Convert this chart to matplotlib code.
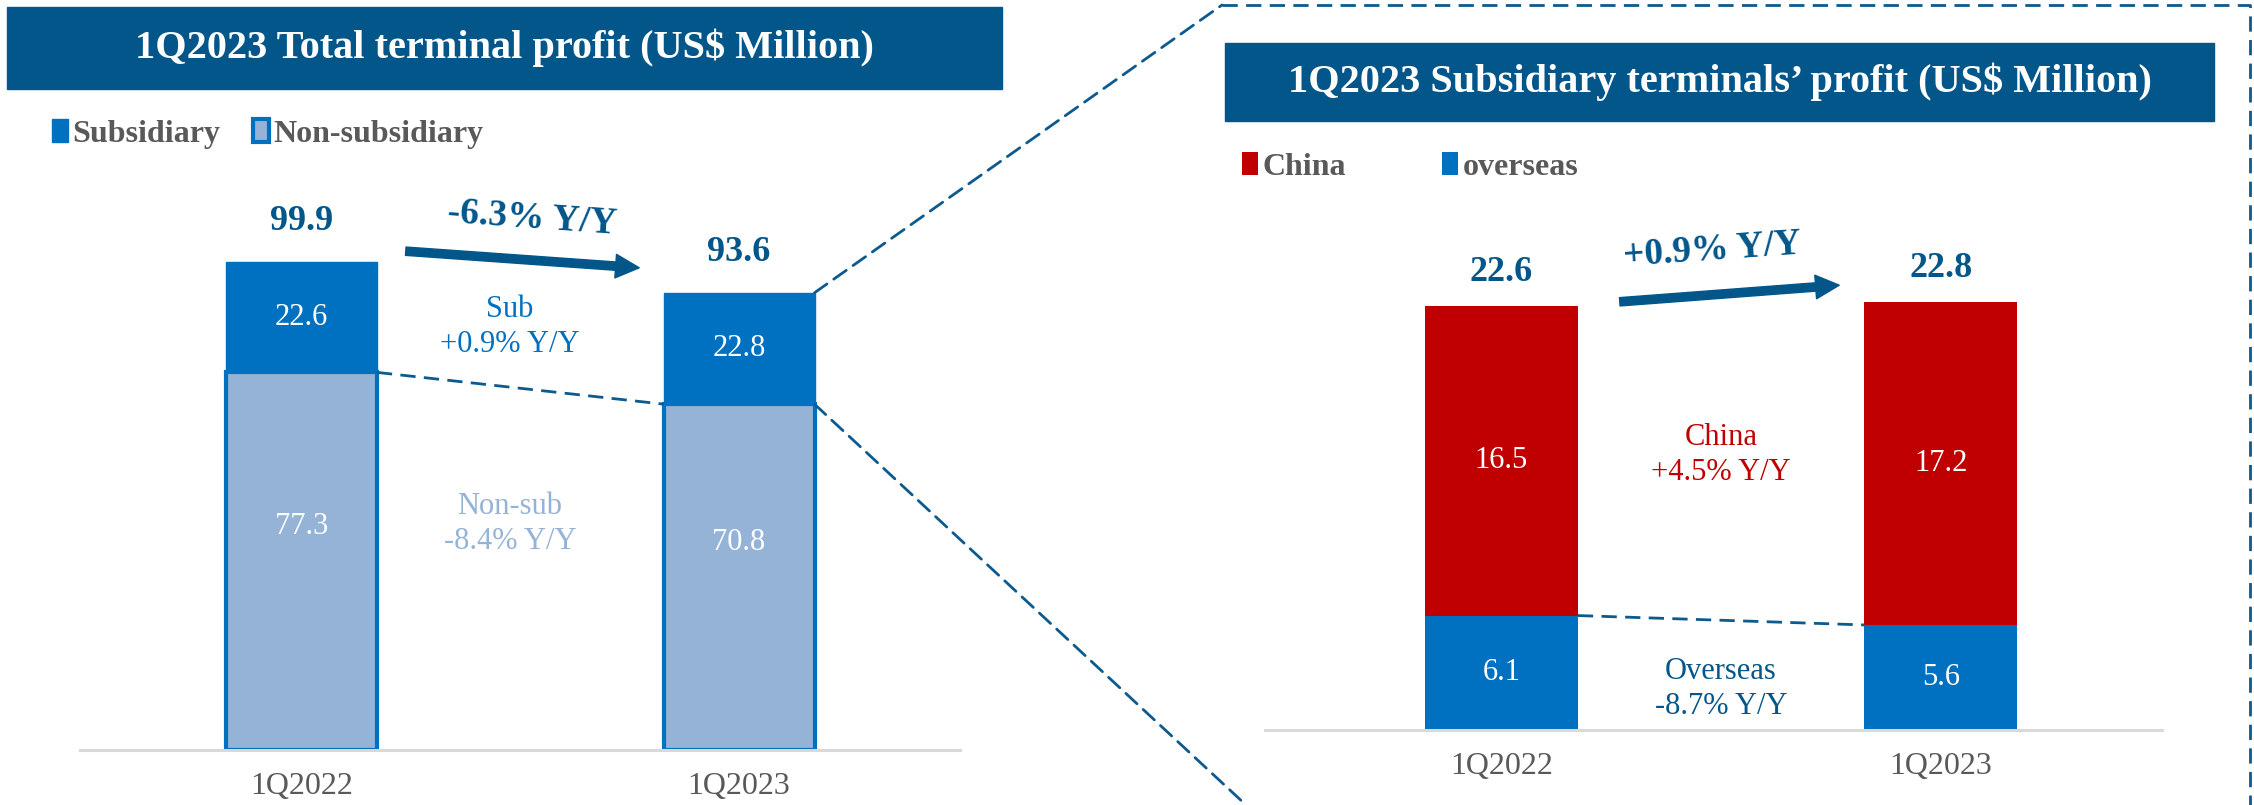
import matplotlib
matplotlib.use("Agg")
import matplotlib.pyplot as plt
from matplotlib.patches import Rectangle, FancyArrowPatch, ConnectionPatch
from matplotlib.lines import Line2D

plt.rcParams['font.family'] = ['Liberation Serif', 'DejaVu Serif']

# data
quarters = ["1Q2022", "1Q2023"]
subsidiary = [22.6, 22.8]
non_subsidiary = [77.3, 70.8]
totals = [99.9, 93.6]
china = [16.5, 17.2]
overseas = [6.1, 5.6]
sub_totals = [22.6, 22.8]

total_change = "-6.3% Y/Y"
sub_change = "Sub\n+0.9% Y/Y"
nonsub_change = "Non-sub\n-8.4% Y/Y"
subsid_change = "+0.9% Y/Y"
china_change = "China\n+4.5% Y/Y"
overseas_change = "Overseas\n-8.7% Y/Y"

# colours
navy = "#03568A"
blue = "#0070C0"
light = "#95B3D7"
red = "#C00000"
grey = "#595959"
dash_col = "#0D5A8E"

W, H = 2254, 805
fig = plt.figure(figsize=(W / 100, H / 100), dpi=100)

def fx(x):
    return x / W

def fy(y):
    return 1 - y / H

def header(x0, y0, x1, y1, txt):
    fig.add_artist(Rectangle((fx(x0), fy(y1)), (x1 - x0) / W, (y1 - y0) / H,
                             transform=fig.transFigure, color=navy, zorder=0))
    fig.text(fx((x0 + x1) / 2), fy((y0 + y1) / 2), txt, color="white", fontsize=29,
             fontweight="bold", ha="center", va="center")

def style_axis(ax):
    for s in ["top", "left", "right"]:
        ax.spines[s].set_visible(False)
    ax.spines["bottom"].set_color("#D9D9D9")
    ax.spines["bottom"].set_linewidth(2.2)
    ax.set_yticks([])
    ax.tick_params(axis="x", length=0, pad=16, labelsize=23, labelcolor=grey)

x = [0, 1]

# ---------- left panel ----------
header(7, 7, 1002, 89, "1Q2023 Total terminal profit (US$ Million)")

wL = 0.345
axL = fig.add_axes([fx(80), fy(750), 880 / W, 550 / H])
axL.set_xlim(-0.506, 1.505)
axL.set_ylim(0, 550 / 4.885)
b_non = axL.bar(x, non_subsidiary, width=wL, color=light, edgecolor=blue, linewidth=3, zorder=2)
b_sub = axL.bar(x, subsidiary, width=wL, bottom=non_subsidiary, color=blue, edgecolor=blue,
                linewidth=1, zorder=2)
axL.set_xticks(x, quarters)
style_axis(axL)

for i in x:
    axL.annotate(f"{totals[i]}", (i, totals[i]), xytext=(0, 29), textcoords="offset points",
                 ha="center", va="center", fontsize=26, fontweight="bold", color=navy)
    axL.annotate(f"{subsidiary[i]}", (i, non_subsidiary[i] + subsidiary[i] / 2),
                 ha="center", va="center", fontsize=22, color="white")
    axL.annotate(f"{non_subsidiary[i]}", (i, non_subsidiary[i] / 2), xytext=(0, 25),
                 textcoords="offset points", ha="center", va="center", fontsize=22, color="white")

axL.plot([wL / 2, 1 - wL / 2], [non_subsidiary[0], non_subsidiary[1]], color=dash_col,
         lw=2, ls=(0, (5.5, 3)), zorder=3)

fig.text(fx(510), fy(327), sub_change, color=blue, fontsize=22, ha="center", va="center",
         linespacing=1.25)
fig.text(fx(510), fy(524), nonsub_change, color=light, fontsize=22, ha="center", va="center",
         linespacing=1.25)

fig.add_artist(FancyArrowPatch((fx(403), fy(251)), (fx(642), fy(268)), transform=fig.transFigure,
                               arrowstyle="simple,head_length=0.85,head_width=0.85,tail_width=0.3",
                               mutation_scale=20, color=navy))
fig.text(fx(532), fy(218), total_change, color=navy, fontsize=27, fontweight="bold",
         ha="center", va="center", rotation=-4, rotation_mode="anchor")

fig.legend([b_sub, b_non], ["Subsidiary", "Non-subsidiary"], loc="center left",
           bbox_to_anchor=(fx(36), fy(134)), ncol=2, frameon=False, borderpad=0,
           handlelength=0.5, handleheight=0.7, handletextpad=0.15, columnspacing=1.0,
           prop={"size": 23, "weight": "bold"}, labelcolor=grey)

# ---------- right panel ----------
header(1225, 43, 2214, 121, "1Q2023 Subsidiary terminals\u2019 profit (US$ Million)")

wR = 0.348
axR = fig.add_axes([fx(1265), fy(730), 897 / W, 470 / H])
axR.set_xlim(-0.538, 1.503)
axR.set_ylim(0, 470 / 18.76)
b_ov = axR.bar(x, overseas, width=wR, color=blue, zorder=2)
b_cn = axR.bar(x, china, width=wR, bottom=overseas, color=red, zorder=2)
axR.set_xticks(x, quarters)
style_axis(axR)

for i in x:
    axR.annotate(f"{sub_totals[i]}", (i, sub_totals[i]), xytext=(0, 24), textcoords="offset points",
                 ha="center", va="center", fontsize=26, fontweight="bold", color=navy)
    axR.annotate(f"{china[i]}", (i, overseas[i] + china[i] / 2),
                 ha="center", va="center", fontsize=22, color="white")
    axR.annotate(f"{overseas[i]}", (i, overseas[i] / 2),
                 ha="center", va="center", fontsize=22, color="white")

axR.plot([wR / 2, 1 - wR / 2], [overseas[0], overseas[1]], color=dash_col,
         lw=2, ls=(0, (5.5, 3)), zorder=3)

fig.text(fx(1721), fy(455), china_change, color=red, fontsize=22, ha="center", va="center",
         linespacing=1.25)
fig.text(fx(1721), fy(689), overseas_change, color=navy, fontsize=22, ha="center", va="center",
         linespacing=1.25)

fig.add_artist(FancyArrowPatch((fx(1617), fy(302)), (fx(1842), fy(285)), transform=fig.transFigure,
                               arrowstyle="simple,head_length=0.85,head_width=0.85,tail_width=0.3",
                               mutation_scale=20, color=navy))
fig.text(fx(1712), fy(250), subsid_change, color=navy, fontsize=27, fontweight="bold",
         ha="center", va="center", rotation=4, rotation_mode="anchor")

fig.legend([b_cn, b_ov], ["China", "overseas"], loc="center left",
           bbox_to_anchor=(fx(1226), fy(167)), ncol=2, frameon=False, borderpad=0,
           handlelength=0.5, handleheight=0.7, handletextpad=0.15, columnspacing=3.0,
           prop={"size": 23, "weight": "bold"}, labelcolor=grey)

# ---------- zoom connectors and dashed frame ----------
dash = dict(color=dash_col, lw=2, ls=(0, (5.5, 3)))
fig.add_artist(ConnectionPatch((1 + wL / 2, totals[1]), (fx(1222), fy(5)), coordsA=axL.transData,
                               coordsB=fig.transFigure, **dash))
fig.add_artist(ConnectionPatch((1 + wL / 2, non_subsidiary[1]), (fx(1246), fy(805)),
                               coordsA=axL.transData, coordsB=fig.transFigure, **dash))
fig.add_artist(Line2D([fx(1222), fx(2250), fx(2250)], [fy(5), fy(5), fy(805)],
                      transform=fig.transFigure, **dash))

fig.savefig("out.png", dpi=100)
